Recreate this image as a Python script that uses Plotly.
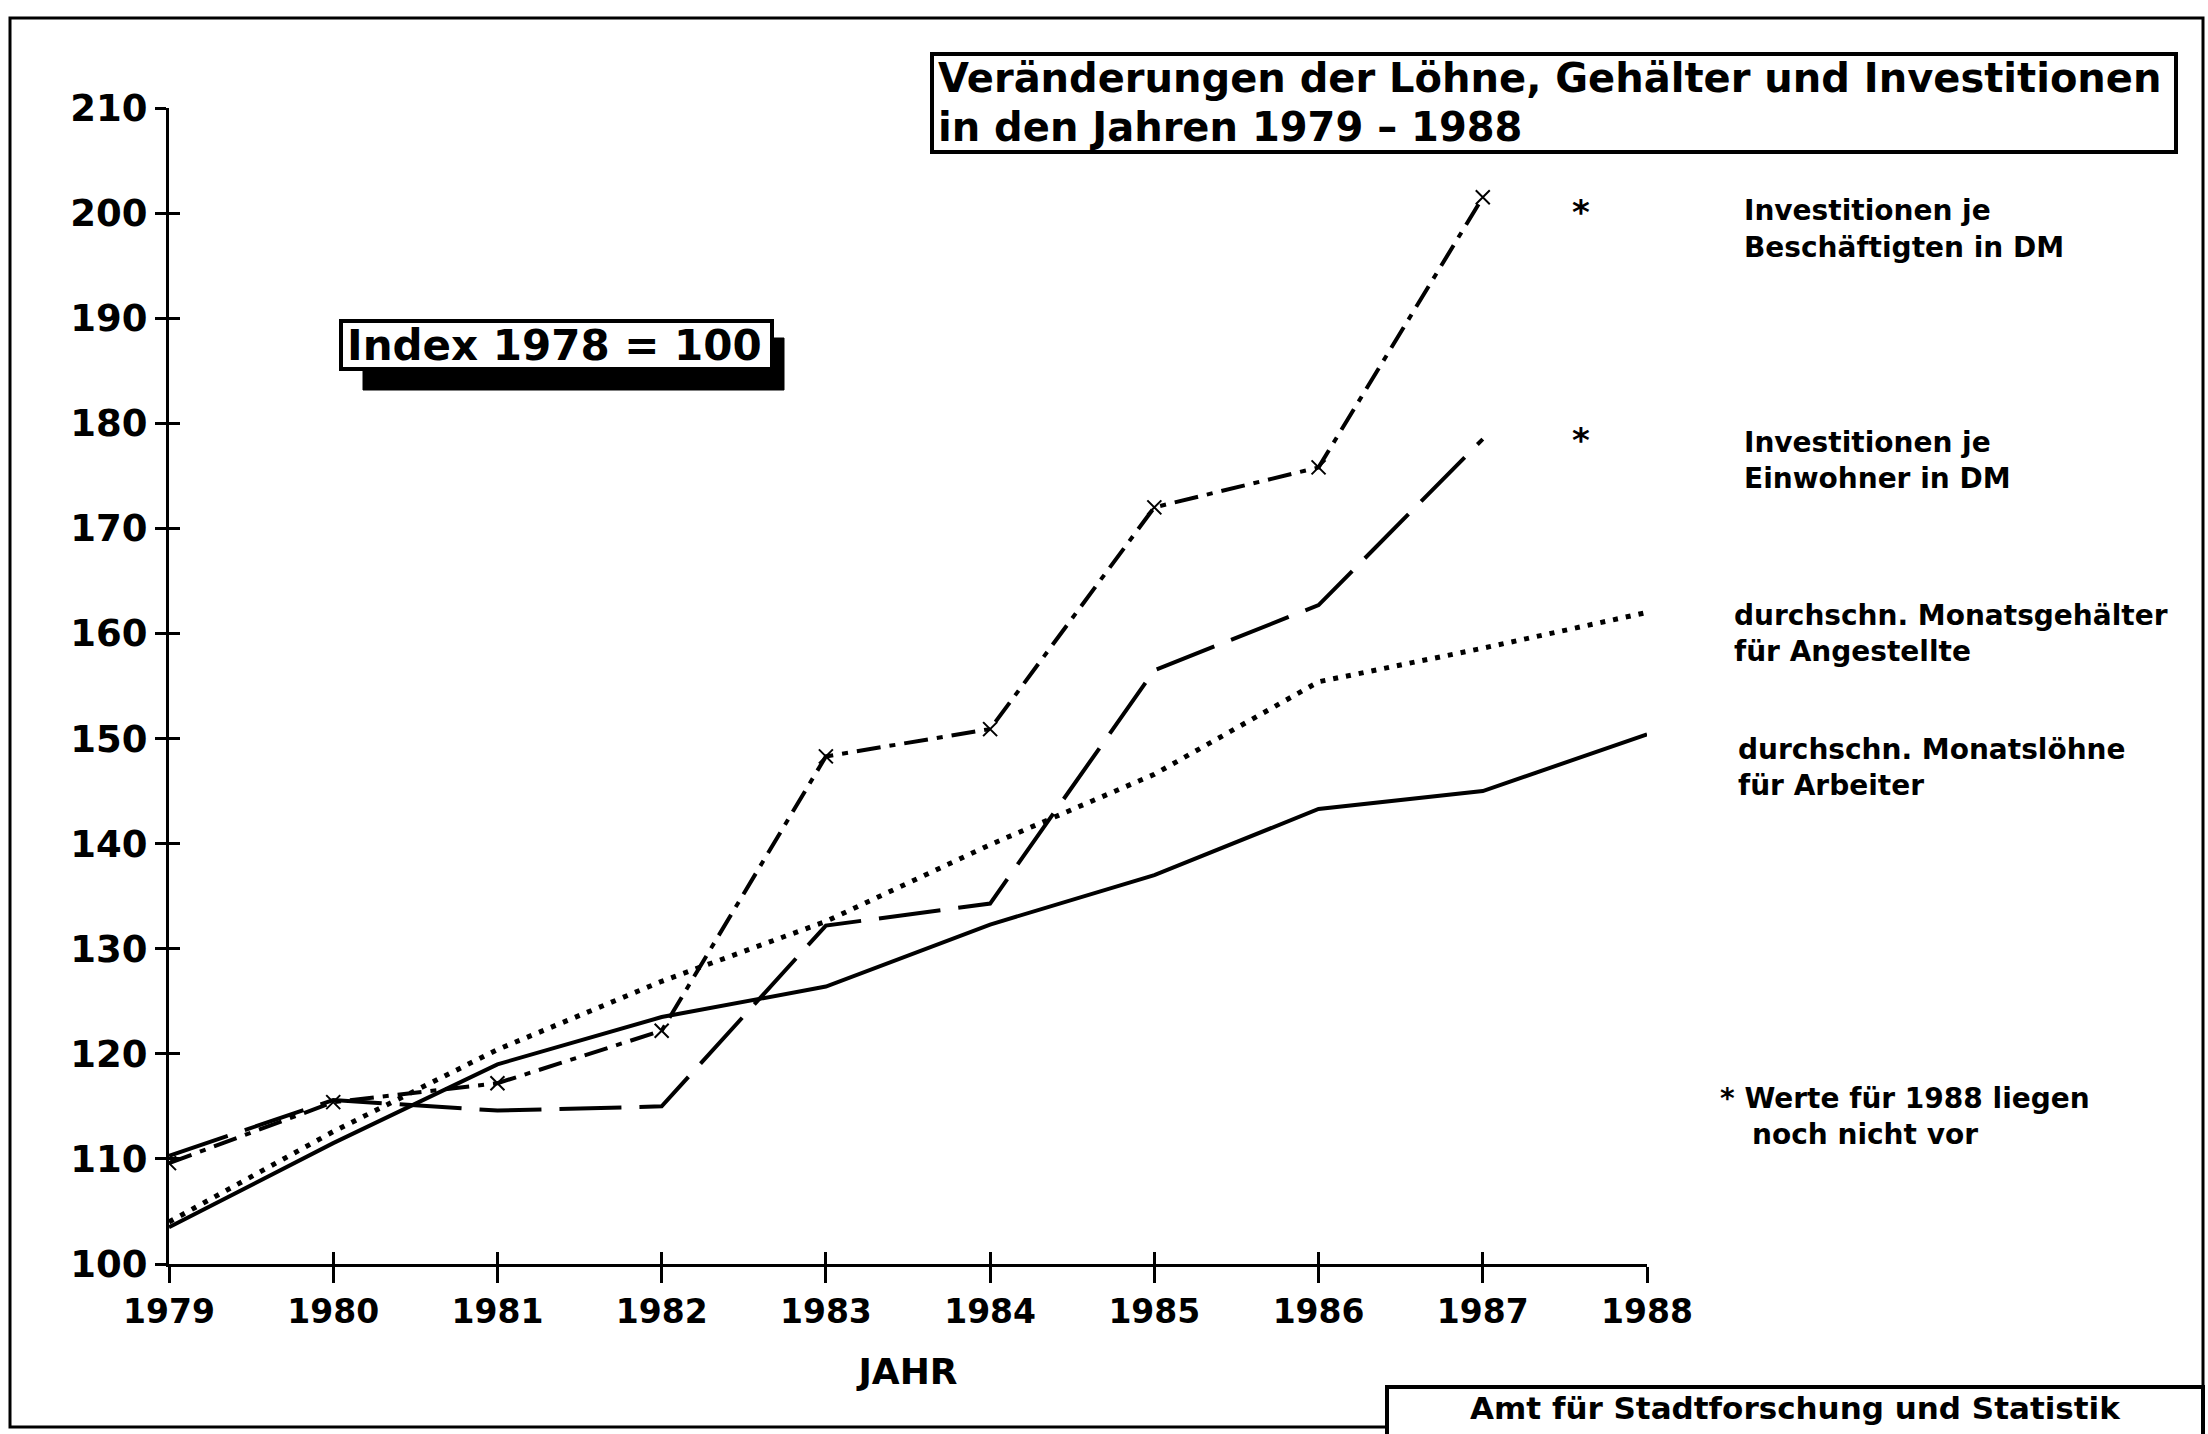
import plotly.graph_objects as go

# ---------------- data ----------------
years = [1979, 1980, 1981, 1982, 1983, 1984, 1985, 1986, 1987, 1988]
loehne_arbeiter = [103.5, 111.5, 119.0, 123.5, 126.4, 132.3, 137.0, 143.3, 145.0, 150.4]
gehaelter_angestellte = [104.0, 112.6, 120.4, 126.9, 132.6, 139.9, 146.6, 155.4, 158.6, 162.0]
invest_einwohner = [110.3, 115.6, 114.6, 115.0, 132.2, 134.3, 156.5, 162.7, 178.5, None]
invest_beschaeftigte = [109.6, 115.4, 117.2, 122.2, 148.3, 150.9, 172.0, 175.8, 201.5, None]
y_ticks = [100, 110, 120, 130, 140, 150, 160, 170, 180, 190, 200, 210]

title_lines = ["Veränderungen der Löhne, Gehälter und Investitionen",
               "in den Jahren 1979 – 1988"]
index_label = "Index 1978 = 100"
label_beschaeftigte = ["Investitionen je", "Beschäftigten in DM"]
label_einwohner = ["Investitionen je", "Einwohner in DM"]
label_angestellte = ["durchschn. Monatsgehälter", "für Angestellte"]
label_arbeiter = ["durchschn. Monatslöhne", "für Arbeiter"]
footnote = ["* Werte für 1988 liegen", "noch nicht vor"]
source = "Amt für Stadtforschung und Statistik"
x_title = "JAHR"
star = "*"

# ---------------- layout geometry ----------------
W, H = 2208, 1434
PL, PR, PT, PB = 169, 1647, 108, 1264


def px(x):
    return (x - PL) / (PR - PL)


def py(y):
    return (PB - y) / (PB - PT)


FONT = "DejaVu Sans"
BLACK = "#000000"

fig = go.Figure()

fig.add_trace(go.Scatter(x=years, y=loehne_arbeiter, mode="lines",
                         line=dict(color=BLACK, width=4, dash="solid"),
                         name="Löhne Arbeiter", showlegend=False))
fig.add_trace(go.Scatter(x=years, y=gehaelter_angestellte, mode="lines",
                         line=dict(color=BLACK, width=5, dash="5px,8px"),
                         name="Gehälter Angestellte", showlegend=False))
fig.add_trace(go.Scatter(x=years, y=invest_einwohner, mode="lines",
                         line=dict(color=BLACK, width=4, dash="62px,18px"),
                         name="Investitionen je Einwohner", showlegend=False))
fig.add_trace(go.Scatter(x=years, y=invest_beschaeftigte, mode="lines+markers",
                         line=dict(color=BLACK, width=4, dash="24px,9px,6px,9px"),
                         marker=dict(symbol="x-thin-open", size=14,
                                     line=dict(color=BLACK, width=2)),
                         name="Investitionen je Beschäftigten", showlegend=False))

# invisible helper trace for the inner half of the crossing ticks
fig.add_trace(go.Scatter(x=years, y=loehne_arbeiter, xaxis="x2", yaxis="y2",
                         mode="lines", line=dict(width=0), opacity=0,
                         hoverinfo="skip", showlegend=False))

axis_common = dict(showgrid=False, zeroline=False, showline=True,
                   linecolor=BLACK, linewidth=3, tickcolor=BLACK, tickwidth=3)

fig.update_layout(
    width=W, height=H,
    margin=dict(l=PL, r=W - PR, t=PT, b=H - PB, pad=0),
    paper_bgcolor="white", plot_bgcolor="white",
    font=dict(family=FONT, color=BLACK),
    xaxis=dict(range=[1979, 1988], tickvals=years, ticks="outside", ticklen=16,
               tickfont=dict(family=FONT, size=33, color=BLACK, weight="bold"),
               title=dict(text=x_title, standoff=30,
                          font=dict(family=FONT, size=36, color=BLACK, weight="bold")),
               **axis_common),
    yaxis=dict(range=[100, 210], tickvals=y_ticks, ticks="outside", ticklen=11,
               tickfont=dict(family=FONT, size=37, color=BLACK, weight="bold"),
               **axis_common),
    xaxis2=dict(range=[1979, 1988], tickvals=years, ticks="inside", ticklen=12,
                overlaying="x", anchor="y2", side="bottom", showticklabels=False,
                showgrid=False, zeroline=False, showline=False,
                tickcolor=BLACK, tickwidth=3),
    yaxis2=dict(range=[100, 210], tickvals=y_ticks, ticks="inside", ticklen=11,
                overlaying="y", anchor="x2", side="left", showticklabels=False,
                showgrid=False, zeroline=False, showline=False,
                tickcolor=BLACK, tickwidth=3),
)

shapes = []
# outer border
shapes.append(dict(type="rect", xref="paper", yref="paper",
                   x0=px(10), x1=px(2203), y0=py(1427), y1=py(18),
                   line=dict(color=BLACK, width=3)))
# title box
shapes.append(dict(type="rect", xref="paper", yref="paper",
                   x0=px(932), x1=px(2176), y0=py(152), y1=py(54),
                   line=dict(color=BLACK, width=4)))
# index box shadow + box
shapes.append(dict(type="rect", xref="paper", yref="paper",
                   x0=px(363), x1=px(784), y0=py(390), y1=py(338),
                   fillcolor=BLACK, line=dict(color=BLACK, width=1)))
shapes.append(dict(type="rect", xref="paper", yref="paper",
                   x0=px(341), x1=px(772), y0=py(369), y1=py(321),
                   fillcolor="white", line=dict(color=BLACK, width=4)))
# source box
shapes.append(dict(type="rect", xref="paper", yref="paper",
                   x0=px(1387), x1=px(2203), y0=py(1450), y1=py(1387),
                   fillcolor="white", line=dict(color=BLACK, width=4)))
fig.update_layout(shapes=shapes)

annotations = []


def text(t, x, y, size, bold=False, xanchor="left"):
    annotations.append(dict(text=t, xref="paper", yref="paper", x=px(x), y=py(y),
                            xanchor=xanchor, yanchor="middle", showarrow=False,
                            font=dict(family=FONT, size=size, color=BLACK,
                                      weight="bold" if bold else "normal")))


text(title_lines[0], 936, 78, 40, bold=True)
text(title_lines[1], 936, 127, 40, bold=True)
text(index_label, 345, 345, 42, bold=True)

# asterisks beside the 1987 end points (no 1988 values)
text(star, 1581, 212, 34, bold=True, xanchor="center")
text(star, 1581, 440, 34, bold=True, xanchor="center")

legend_specs = [(label_beschaeftigte, 1742, 211),
                (label_einwohner, 1742, 442),
                (label_angestellte, 1732, 615),
                (label_arbeiter, 1736, 749)]
for lines, x0, y0 in legend_specs:
    text(lines[0], x0, y0, 28, bold=True)
    text(lines[1], x0, y0 + 36, 28, bold=True)

text(footnote[0], 1718, 1098, 28, bold=True)
text(footnote[1], 1750, 1134, 28, bold=True)
text(source, 1795, 1408, 31, bold=True, xanchor="center")

fig.update_layout(annotations=annotations)

fig.write_html("out.html",
               config={"displayModeBar": False},
               post_script="document.body.style.margin='0';"
                           "document.body.style.overflow='hidden';")
